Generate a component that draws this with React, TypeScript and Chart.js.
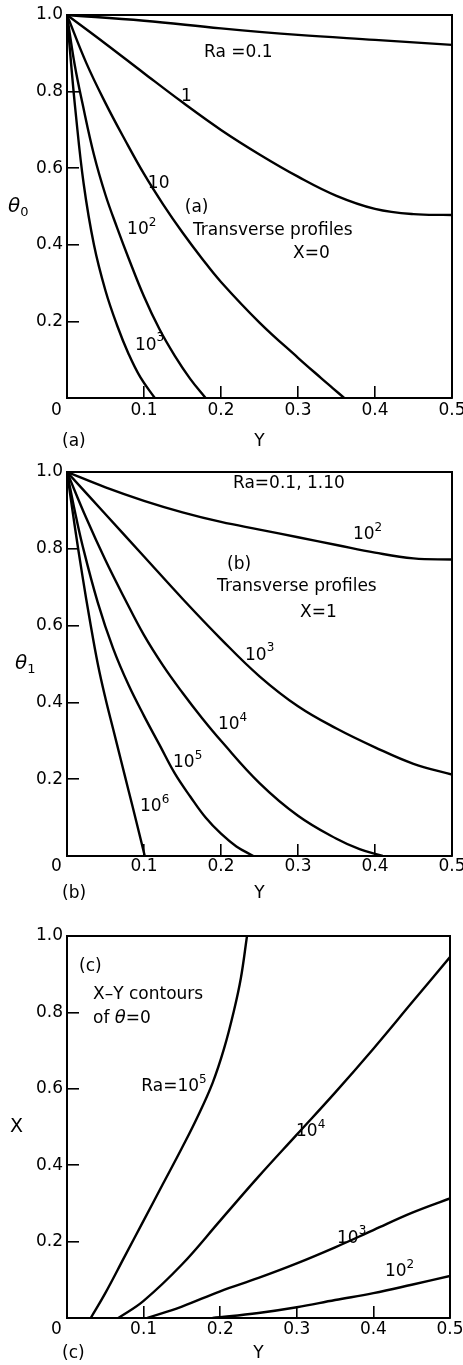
import React, { useEffect, useRef } from "react";
import { Chart, registerables } from "chart.js";
Chart.register(...registerables);

const FONT = '"DejaVu Sans", sans-serif';

// ---------- Panel (a): transverse profiles of θ0 at X = 0 (Y vs θ0) ----------
const a_Y_Ra0_1 = [0, 0.1, 0.2, 0.3, 0.4, 0.5];
const a_T_Ra0_1 = [1, 0.985, 0.965, 0.948, 0.935, 0.922];
const a_Y_Ra1 = [0, 0.05, 0.1, 0.15, 0.2, 0.25, 0.3, 0.35, 0.4, 0.45, 0.5];
const a_T_Ra1 = [1, 0.925, 0.848, 0.772, 0.7, 0.636, 0.578, 0.528, 0.494, 0.48, 0.478];
const a_Y_Ra10 = [0, 0.025, 0.05, 0.075, 0.1, 0.125, 0.15, 0.175, 0.2, 0.25, 0.3, 0.33, 0.345, 0.36];
const a_T_Ra10 = [1, 0.875, 0.77, 0.675, 0.585, 0.505, 0.432, 0.365, 0.303, 0.197, 0.105, 0.052, 0.026, 0];
const a_Y_Ra1e2 = [0, 0.01, 0.02, 0.035, 0.05, 0.065, 0.08, 0.1, 0.12, 0.14, 0.16, 0.18];
const a_T_Ra1e2 = [1, 0.87, 0.77, 0.635, 0.53, 0.445, 0.365, 0.265, 0.18, 0.11, 0.05, 0];
const a_Y_Ra1e3 = [0, 0.005, 0.011, 0.0216, 0.035, 0.05, 0.065, 0.08, 0.095, 0.114];
const a_T_Ra1e3 = [1, 0.88, 0.75, 0.56, 0.4, 0.28, 0.19, 0.115, 0.055, 0];

const a_notes = [
  { text: "Ra =0.1", x: 0.178, y: 0.901 },
  { text: "1", x: 0.148, y: 0.786 },
  { text: "10", x: 0.105, y: 0.561 },
  { text: "(a)", x: 0.153, y: 0.496 },
  { text: "10^2", x: 0.078, y: 0.439 },
  { text: "Transverse profiles", x: 0.1636, y: 0.436 },
  { text: "X=0", x: 0.2935, y: 0.376 },
  { text: "10^3", x: 0.0883, y: 0.138 },
];

// ---------- Panel (b): transverse profiles of θ1 at X = 1 ----------
const b_Y_Ra1e2 = [0, 0.05, 0.1, 0.15, 0.2, 0.25, 0.3, 0.35, 0.4, 0.45, 0.5];
const b_T_Ra1e2 = [1, 0.96, 0.925, 0.895, 0.87, 0.85, 0.83, 0.81, 0.79, 0.775, 0.772];
const b_Y_Ra1e3 = [0, 0.05, 0.1, 0.15, 0.2, 0.25, 0.3, 0.35, 0.4, 0.45, 0.5];
const b_T_Ra1e3 = [1, 0.89, 0.78, 0.67, 0.565, 0.468, 0.39, 0.332, 0.283, 0.24, 0.212];
const b_Y_Ra1e4 = [0, 0.025, 0.05, 0.075, 0.1, 0.125, 0.15, 0.175, 0.2, 0.25, 0.3, 0.35, 0.38, 0.41];
const b_T_Ra1e4 = [1, 0.88, 0.77, 0.67, 0.575, 0.495, 0.425, 0.36, 0.3, 0.19, 0.105, 0.045, 0.018, 0];
const b_Y_Ra1e5 = [0, 0.01, 0.02, 0.04, 0.06, 0.08, 0.1, 0.12, 0.14, 0.16, 0.18, 0.2, 0.22, 0.242];
const b_T_Ra1e5 = [1, 0.9, 0.81, 0.66, 0.54, 0.445, 0.365, 0.29, 0.215, 0.155, 0.1, 0.058, 0.025, 0];
const b_Y_Ra1e6 = [0, 0.01, 0.02, 0.03, 0.04, 0.05, 0.06, 0.07, 0.08, 0.09, 0.101];
const b_T_Ra1e6 = [1, 0.86, 0.73, 0.61, 0.5, 0.41, 0.33, 0.25, 0.17, 0.09, 0];

const b_notes = [
  { text: "Ra=0.1, 1.10", x: 0.2156, y: 0.971 },
  { text: "10^2", x: 0.3714, y: 0.836 },
  { text: "(b)", x: 0.2078, y: 0.758 },
  { text: "Transverse profiles", x: 0.1948, y: 0.7005 },
  { text: "X=1", x: 0.3026, y: 0.635 },
  { text: "10^3", x: 0.2312, y: 0.523 },
  { text: "10^4", x: 0.196, y: 0.341 },
  { text: "10^5", x: 0.1377, y: 0.242 },
  { text: "10^6", x: 0.0948, y: 0.128 },
];

// ---------- Panel (c): X–Y contours of θ = 0 ----------
const c_Y_Ra1e5 = [0.031, 0.05, 0.075, 0.1, 0.125, 0.15, 0.17, 0.19, 0.205, 0.218, 0.227, 0.235];
const c_X_Ra1e5 = [0, 0.065, 0.16, 0.255, 0.35, 0.445, 0.525, 0.615, 0.705, 0.805, 0.89, 1.0];
const c_Y_Ra1e4 = [0.067, 0.1, 0.15, 0.2, 0.25, 0.3, 0.35, 0.4, 0.45, 0.5];
const c_X_Ra1e4 = [0, 0.045, 0.14, 0.255, 0.37, 0.48, 0.59, 0.705, 0.825, 0.945];
const c_Y_Ra1e3 = [0.105, 0.15, 0.2, 0.25, 0.3, 0.35, 0.4, 0.45, 0.5];
const c_X_Ra1e3 = [0, 0.03, 0.07, 0.105, 0.143, 0.185, 0.23, 0.275, 0.313];
const c_Y_Ra1e2 = [0.19, 0.25, 0.3, 0.35, 0.4, 0.45, 0.5];
const c_X_Ra1e2 = [0, 0.013, 0.028, 0.047, 0.065, 0.087, 0.11];

const c_notes = [
  { text: "(c)", x: 0.0157, y: 0.92 },
  { text: "X\u2013Y contours", x: 0.034, y: 0.8455 },
  { text: "of θ=0", x: 0.034, y: 0.7845 },
  { text: "Ra=10^5", x: 0.097, y: 0.6055 },
  { text: "10^4", x: 0.299, y: 0.488 },
  { text: "10^3", x: 0.3525, y: 0.2086 },
  { text: "10^2", x: 0.415, y: 0.121 },
];

// axis ticks
const xTickStep = 0.1;
const yTickStep = 0.2;

type Note = { text: string; x: number; y: number };
type Spec = {
  top: number;
  height: number;
  padTop: number;
  padRight: number;
  axisH: number;
  tickDy: number;
  titleFromBottom: number;
  yTitle: string;
  yTitleX: number;
  tag: string;
  curves: { xs: number[]; ys: number[] }[];
  notes: Note[];
};

function drawRich(ctx: CanvasRenderingContext2D, s: string, x: number, y: number, size: number) {
  const toks: { t: string; m: string }[] = [];
  let i = 0;
  while (i < s.length) {
    const c = s[i];
    if ((c === "^" || c === "_") && i + 1 < s.length) {
      toks.push({ t: s[i + 1], m: c });
      i += 2;
      continue;
    }
    if (c === "θ") {
      toks.push({ t: c, m: "i" });
      i++;
      continue;
    }
    const last = toks[toks.length - 1];
    if (last && last.m === "n") last.t += c;
    else toks.push({ t: c, m: "n" });
    i++;
  }
  ctx.textAlign = "left";
  ctx.textBaseline = "middle";
  let cx = x;
  for (const tk of toks) {
    const small = tk.m === "^" || tk.m === "_";
    const fs = small ? Math.round(size * 0.68) : tk.m === "i" ? size + 1 : size;
    ctx.font = `${tk.m === "i" ? "italic " : ""}${fs}px ${FONT}`;
    const dy = tk.m === "^" ? -size * 0.42 : tk.m === "_" ? size * 0.32 : 0;
    ctx.fillText(tk.t, cx, y + dy);
    cx += ctx.measureText(tk.t).width + (small ? 1 : 0);
  }
}

function Panel({ spec }: { spec: Spec }) {
  const ref = useRef<HTMLCanvasElement | null>(null);
  useEffect(() => {
    if (!ref.current) return;
    const tickLen = 12;
    const lh = 1.2;
    const fs = 17;
    const decor = {
      id: "decor",
      afterDraw(chart: any) {
        const { ctx, chartArea: ca, scales } = chart;
        ctx.save();
        ctx.strokeStyle = "#000";
        ctx.lineWidth = 2;
        ctx.beginPath();
        ctx.moveTo(ca.left, ca.top);
        ctx.lineTo(ca.right, ca.top);
        ctx.lineTo(ca.right, ca.bottom);
        ctx.stroke();
        ctx.fillStyle = "#000";
        for (const n of spec.notes) {
          drawRich(ctx, n.text, scales.x.getPixelForValue(n.x), scales.y.getPixelForValue(n.y), 17);
        }
        drawRich(ctx, spec.yTitle, spec.yTitleX, (ca.top + ca.bottom) / 2, 19);
        drawRich(ctx, spec.tag, ca.left - 5, chart.height - spec.titleFromBottom, 17);
        drawRich(ctx, "0", ca.left - 16, ca.bottom + spec.tickDy, 17);
        ctx.restore();
      },
    };
    const datasets = spec.curves.map((c) => ({
      data: c.xs.map((x, i) => ({ x, y: c.ys[i] })),
      showLine: true,
      borderColor: "#000",
      borderWidth: 2.4,
      pointRadius: 0,
      fill: false,
      tension: 0.4,
    }));
    const chart = new Chart(ref.current, {
      type: "scatter",
      data: { datasets },
      options: {
        animation: false,
        responsive: false,
        devicePixelRatio: 1,
        events: [],
        layout: { padding: { top: spec.padTop, right: spec.padRight, left: 0, bottom: 0 } },
        plugins: { legend: { display: false }, tooltip: { enabled: false } },
        scales: {
          x: {
            type: "linear",
            min: 0,
            max: 0.5,
            ticks: {
              stepSize: xTickStep,
              color: "#000",
              font: { family: FONT, size: fs, lineHeight: lh },
              padding: spec.tickDy + tickLen - (fs * lh) / 2,
              maxRotation: 0,
              callback: (v: any) => (Math.abs(Number(v)) < 1e-9 ? "" : Number(v).toFixed(1)),
            },
            grid: { drawOnChartArea: false, drawTicks: true, tickLength: -tickLen, color: "#000", lineWidth: 1.6 },
            border: { display: true, color: "#000", width: 2 },
            title: {
              display: true,
              text: "Y",
              color: "#000",
              font: { family: FONT, size: fs, lineHeight: lh },
              padding: { top: 0, bottom: spec.titleFromBottom - (fs * lh) / 2 },
            },
            afterFit: (s: any) => {
              s.height = spec.axisH;
              s.paddingLeft = 0;
              s.paddingRight = 0;
            },
          },
          y: {
            type: "linear",
            min: 0,
            max: 1,
            ticks: {
              stepSize: yTickStep,
              color: "#000",
              font: { family: FONT, size: fs, lineHeight: lh },
              padding: tickLen + 4,
              callback: (v: any) => (Math.abs(Number(v)) < 1e-9 ? "" : Number(v).toFixed(1)),
            },
            grid: { drawOnChartArea: false, drawTicks: true, tickLength: -tickLen, color: "#000", lineWidth: 1.6 },
            border: { display: true, color: "#000", width: 2 },
            afterFit: (s: any) => {
              s.width = 67;
              s.paddingTop = 0;
              s.paddingBottom = 0;
            },
          },
        },
      },
      plugins: [decor],
    } as any);
    return () => chart.destroy();
  }, [spec]);
  return (
    <canvas
      ref={ref}
      width={463}
      height={spec.height}
      style={{ position: "absolute", left: 0, top: spec.top, width: 463, height: spec.height, display: "block" }}
    />
  );
}

const specA: Spec = {
  top: 0,
  height: 455,
  padTop: 15,
  padRight: 11,
  axisH: 57,
  tickDy: 13,
  titleFromBottom: 13,
  yTitle: "θ_0",
  yTitleX: 8,
  tag: "(a)",
  curves: [
    { xs: a_Y_Ra0_1, ys: a_T_Ra0_1 },
    { xs: a_Y_Ra1, ys: a_T_Ra1 },
    { xs: a_Y_Ra10, ys: a_T_Ra10 },
    { xs: a_Y_Ra1e2, ys: a_T_Ra1e2 },
    { xs: a_Y_Ra1e3, ys: a_T_Ra1e3 },
  ],
  notes: a_notes,
};

const specB: Spec = {
  top: 458,
  height: 452,
  padTop: 14,
  padRight: 11,
  axisH: 54,
  tickDy: 11,
  titleFromBottom: 16,
  yTitle: "θ_1",
  yTitleX: 15,
  tag: "(b)",
  curves: [
    { xs: b_Y_Ra1e2, ys: b_T_Ra1e2 },
    { xs: b_Y_Ra1e3, ys: b_T_Ra1e3 },
    { xs: b_Y_Ra1e4, ys: b_T_Ra1e4 },
    { xs: b_Y_Ra1e5, ys: b_T_Ra1e5 },
    { xs: b_Y_Ra1e6, ys: b_T_Ra1e6 },
  ],
  notes: b_notes,
};

const specC: Spec = {
  top: 920,
  height: 445,
  padTop: 16,
  padRight: 13,
  axisH: 47,
  tickDy: 12,
  titleFromBottom: 11,
  yTitle: "X",
  yTitleX: 10,
  tag: "(c)",
  curves: [
    { xs: c_Y_Ra1e5, ys: c_X_Ra1e5 },
    { xs: c_Y_Ra1e4, ys: c_X_Ra1e4 },
    { xs: c_Y_Ra1e3, ys: c_X_Ra1e3 },
    { xs: c_Y_Ra1e2, ys: c_X_Ra1e2 },
  ],
  notes: c_notes,
};

export default function App() {
  return (
    <div style={{ position: "absolute", left: 0, top: 0, width: 463, height: 1365, background: "#fff" }}>
      <Panel spec={specA} />
      <Panel spec={specB} />
      <Panel spec={specC} />
    </div>
  );
}
